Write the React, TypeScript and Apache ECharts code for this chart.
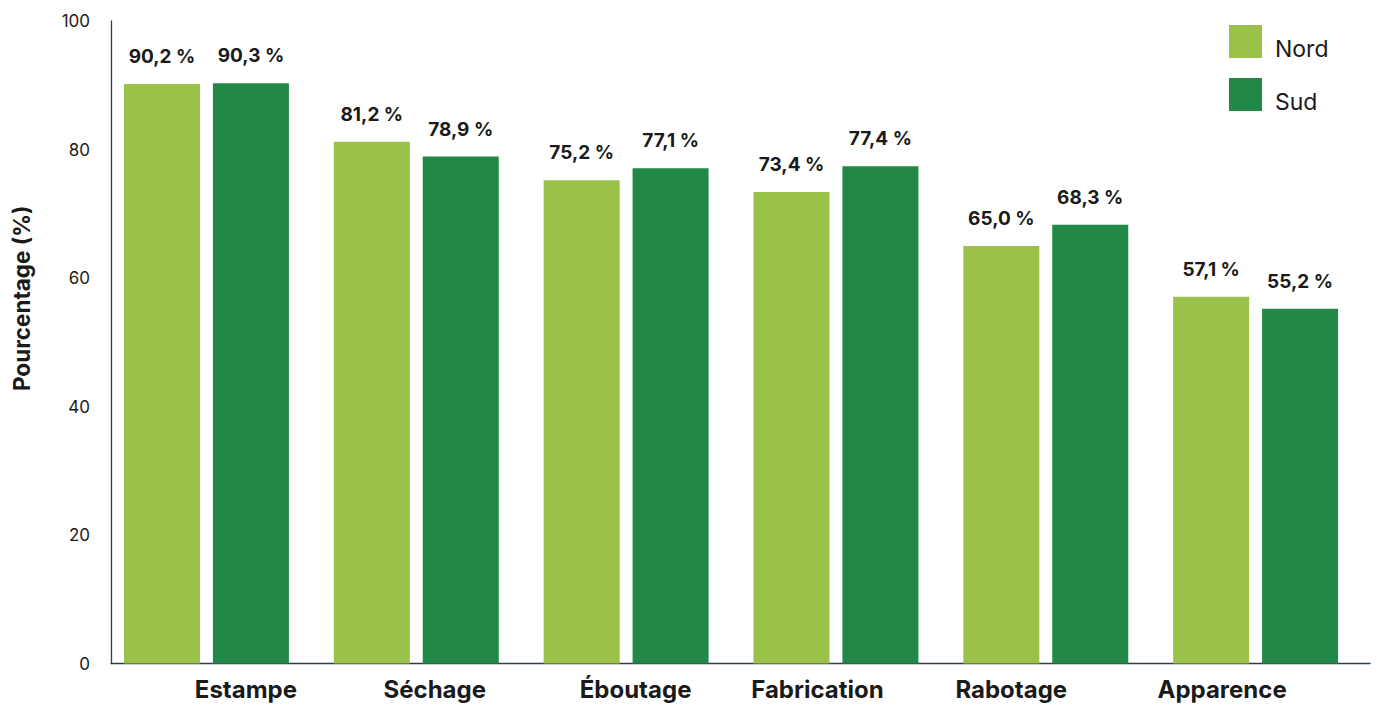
import React, { useEffect, useRef } from "react";
import * as echarts from "echarts";

const categories = ["Estampe", "Séchage", "Éboutage", "Fabrication", "Rabotage", "Apparence"];
const nordValues = [90.2, 81.2, 75.2, 73.4, 65.0, 57.1];
const sudValues = [90.3, 78.9, 77.1, 77.4, 68.3, 55.2];
const seriesNames = ["Nord", "Sud"];

// horizontal shift (px) of each category label relative to its band centre
const labelShift = [30, 9, 0, -28, -44, -43];

const FONT = "Inter, 'Noto Sans', sans-serif";
const TEXT = "#1a1a1a";

function fmt(v: number) {
  return v.toFixed(1).replace(".", ",") + " %";
}

export default function App() {
  const ref = useRef<HTMLDivElement>(null);
  useEffect(() => {
    if (!ref.current) return;
    const prevMargin = document.body.style.margin;
    document.body.style.margin = "0";
    const chart = echarts.init(ref.current, undefined, { renderer: "svg" });
    const rich: Record<string, any> = {};
    labelShift.forEach((s, i) => {
      rich["c" + i] = {
        fontFamily: FONT,
        fontSize: 24,
        fontWeight: "bold",
        color: TEXT,
        padding: s >= 0 ? [0, 0, 0, 2 * s] : [0, -2 * s, 0, 0],
      };
    });
    const valueLabel = {
      show: true,
      position: "top",
      distance: 18,
      fontFamily: FONT,
      fontSize: 19,
      fontWeight: "bold",
      color: TEXT,
      formatter: (p: any) => fmt(p.value),
    };
    chart.setOption({
      animation: false,
      textStyle: { fontFamily: FONT },
      grid: { left: 111, right: 7, top: 21, bottom: 42.5, containLabel: false },
      legend: {
        data: seriesNames,
        orient: "vertical",
        left: 1229,
        top: 25,
        padding: 0,
        itemWidth: 33,
        itemHeight: 33,
        itemGap: 18,
        icon: "rect",
        formatter: (name: string) => `{t|${name}}`,
        textStyle: {
          fontFamily: FONT,
          fontSize: 23,
          color: TEXT,
          rich: {
            t: {
              fontFamily: FONT,
              fontSize: 23,
              color: TEXT,
              padding: [14, 0, 0, 8],
            },
          },
        },
      },
      xAxis: {
        type: "category",
        data: categories,
        axisLine: { show: true, lineStyle: { color: "#2e3e50", width: 1.3 } },
        axisTick: { show: false },
        axisLabel: {
          margin: 14,
          interval: 0,
          formatter: (v: string, i: number) => `{c${i}|${v}}`,
          rich,
        },
      },
      yAxis: {
        type: "value",
        min: 0,
        max: 100,
        interval: 20,
        name: "Pourcentage (%)",
        nameLocation: "middle",
        nameGap: 78,
        nameTextStyle: {
          fontFamily: FONT,
          fontSize: 22.5,
          fontWeight: "bold",
          color: TEXT,
          padding: [0, 0, 0, 88],
        },
        axisLine: { show: true, lineStyle: { color: "#2e3e50", width: 1.3 } },
        axisTick: { show: false },
        splitLine: { show: false },
        axisLabel: { fontFamily: FONT, fontSize: 17, color: TEXT, margin: 21 },
      },
      series: [
        {
          name: seriesNames[0],
          type: "bar",
          data: nordValues,
          barWidth: 76,
          barGap: "17%",
          itemStyle: { color: "#9ac14a" },
          label: valueLabel,
        },
        {
          name: seriesNames[1],
          type: "bar",
          data: sudValues,
          barWidth: 76,
          barGap: "17%",
          itemStyle: { color: "#228847" },
          label: valueLabel,
        },
        {
          name: "spacer",
          type: "bar",
          data: [],
          barWidth: 6,
          barGap: "17%",
          silent: true,
          itemStyle: { color: "transparent" },
        },
      ],
    });
    return () => {
      chart.dispose();
      document.body.style.margin = prevMargin;
    };
  }, []);
  return <div ref={ref} style={{ width: 1377, height: 706 }} />;
}
